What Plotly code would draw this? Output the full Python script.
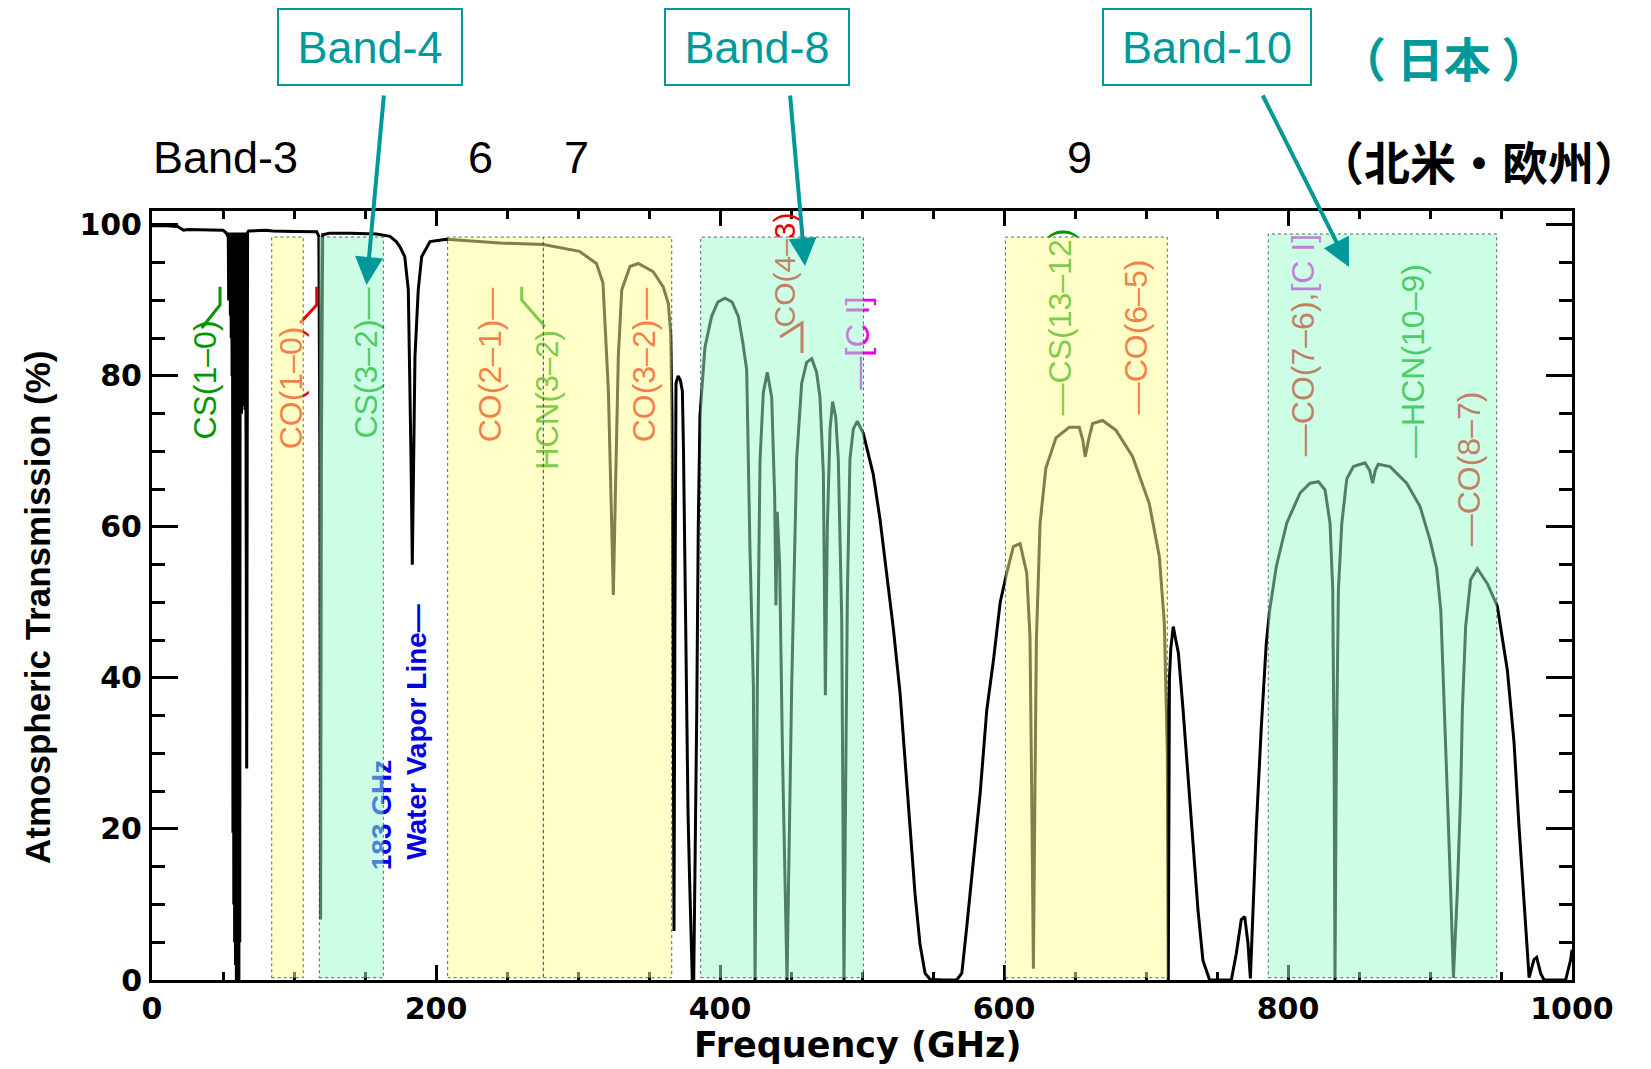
import plotly.graph_objects as go

# ---------------- data ----------------
# atmospheric transmission, (frequency GHz, transmission %) per spectral region
seg_0_53 = [(0, 99.9), (10, 99.9), (18, 99.8), (20, 99.6), (22.2, 99.3), (25, 99.4), (40, 99.4), (50, 99.3),
            (52, 99.0), (53.4, 98.5)]
# 60 GHz oxygen complex (dense forest of lines, read as upper / lower envelope)
seg_o2 = [(53.7, 99), (54.0, 90), (54.3, 99), (54.6, 90), (54.9, 99), (55.2, 88), (55.5, 99), (55.8, 85),
          (56.1, 99), (56.4, 80), (56.7, 99), (57.0, 19.5), (57.3, 99), (57.6, 10), (57.9, 99), (58.2, 5),
          (58.5, 99), (58.8, 2), (59.1, 99), (59.4, 0), (59.7, 99), (60.0, 0), (60.3, 99), (60.6, 0),
          (60.9, 99), (61.2, 0), (61.5, 99), (61.8, 5), (62.1, 99), (62.4, 75), (62.7, 99), (63.0, 75),
          (63.3, 99), (63.6, 76), (63.9, 99), (64.2, 76), (64.5, 99), (64.8, 76), (65.1, 99), (65.5, 75.5),
          (65.9, 99), (66.7, 28), (67.3, 99), (68, 99.2)]
seg_68_120 = [(80, 99.3), (85, 99.2), (100, 99.15), (110, 99.1), (116, 99.1),
              (117.5, 98.5), (118.2, 70), (118.75, 8), (119.3, 70), (120.2, 98.7)]
seg_120_366 = [(125, 98.9), (140, 98.9), (158, 98.8), (167.6, 98.5), (172, 97.8), (174.6, 97.1), (178, 95.8),
               (180.5, 91.4), (181.7, 80), (182.5, 68), (183.3, 55), (184, 68), (185.2, 82.6), (187.5, 91.4),
               (189.9, 95.8), (195.8, 97.8), (207.5, 98.1), (245, 97.6), (275.6, 97.4), (301, 96.5), (313, 94.9),
               (317.6, 92.3), (321.4, 78), (323.5, 62), (324.9, 51), (326.5, 66), (328.4, 82.6), (330.8, 91.4),
               (336.6, 94.5), (342.5, 94.9), (353, 93.8), (360, 91.8), (363.6, 89.6), (365.3, 85.6)]
seg_366_385 = [(366.2, 75), (367.0, 40), (367.6, 6.5), (368.2, 45), (369, 79), (370.5, 80), (372, 79.5),
               (373.5, 78), (374.3, 70), (375.5, 52), (376.5, 35), (377.5, 22), (378.5, 14), (379.5, 5),
               (380.5, 0), (381.5, 0), (382.5, 15), (383.6, 35), (384.7, 60)]
seg_385_501 = [(385.9, 74.8), (389.4, 83.8), (394.1, 87.9), (398.5, 89.8), (403.5, 90.3), (408.5, 89.8),
               (412.9, 87.9), (416, 84.5), (418.8, 80.8), (421.1, 57), (423.5, 39), (424.7, 0), (426.3, 39),
               (428.2, 68.9), (430.5, 77.8), (433.3, 80.5), (436.4, 77.2), (438.5, 64), (439.4, 49.6),
               (440.3, 62), (442, 55), (444, 30), (447.2, 0), (450.5, 39), (454, 69), (457.5, 79), (461, 81.8),
               (464.6, 82.3), (468, 80.5), (470.4, 77.2), (472.8, 67), (474.2, 37.7), (475.6, 60), (477.5, 73),
               (479.3, 76.6), (481.5, 74.5), (483.3, 69), (485.7, 48), (487.3, 0), (489.7, 51), (491.5, 69),
               (493.9, 73), (496.7, 74), (500.9, 72.4)]
seg_501_600 = [(507.9, 67), (512.7, 61), (517.4, 54), (522.1, 46.5), (526.8, 38), (530.3, 29.2), (533.8, 20.3),
               (537.3, 11.5), (540.8, 4.8), (544.4, 0.9), (547.9, 0.1), (556, 0), (566.7, 0), (570.3, 0.9),
               (573.8, 7.1), (578.5, 16), (583.2, 24.7), (587.9, 35.8), (592.6, 42.4), (597.3, 50)]
seg_600_720 = [(601.9, 53.9), (606.6, 57.4), (611.3, 57.8), (616, 53.9), (618.3, 45.5), (619.5, 25), (620.7, 1.5),
               (621.8, 25), (622.8, 45), (625.4, 60.5), (629.5, 67.8), (636.6, 71.8), (645.9, 73.2), (653, 73.2),
               (655.5, 71.5), (657.2, 69.3), (659.5, 71.5), (662.4, 73.7), (669.5, 74.1), (678.9, 72.8),
               (690.6, 69.3), (702.3, 63.1), (709.4, 56.1), (712.9, 47.3), (715.0, 30), (715.7, 0), (716.5, 40),
               (717.5, 44), (719.2, 46.8)]
seg_720_790 = [(720.5, 45.5), (722.8, 43.3), (726.1, 35.8), (729.6, 27), (733.1, 18.1), (736.6, 9.3), (740.1, 2.6),
               (744.8, 0), (760.1, 0), (763.6, 3.5), (767.1, 8), (769.5, 8.4), (771.8, 4.9), (773.5, 0.2),
               (774.9, 7), (777.7, 20.3), (781.2, 33.5), (784.7, 44.6), (787.1, 49)]
seg_790_1000 = [(791.8, 54.8), (799.1, 60.5), (808.5, 64.5), (815.5, 65.8), (821.4, 66), (826.1, 64.9),
                (829.6, 60.5), (831.5, 51.7), (832.5, 28), (833.1, 0), (834, 28), (835.5, 51.7), (837.9, 60.5),
                (841.4, 66.4), (846.1, 68), (854.2, 68.5), (857.5, 67.5), (859.6, 65.8), (861.5, 67.5),
                (863.6, 68.3), (871.8, 68), (883.6, 65.8), (893, 62.7), (900, 58.3), (904.7, 54.5), (907.6, 49),
                (909.9, 38), (912.2, 24.7), (914.6, 11.5), (916.5, 0.3), (919.2, 11.5), (921.6, 24.7),
                (922.8, 35.8), (925.1, 46.8), (928.6, 53), (933.3, 54.5), (940.4, 52.5), (947.4, 49.5),
                (954.5, 41), (959.2, 31.4), (962.7, 20.3), (965.8, 11.5), (968.5, 2.7), (969.8, 0.3),
                (973.2, 2.7), (975.1, 3), (977.9, 0.9), (980.3, 0), (995.5, 0), (999.1, 2.7), (1000, 4)]

# ALMA receiver bands (GHz) shown as shaded boxes
band_names = ["3", "4", "6", "7", "8", "9", "10"]
band_lo = [84.3, 117.8, 208.2, 275.6, 386.4, 601.0, 786.1]
band_hi = [106.5, 162.9, 275.6, 366.0, 501.0, 715.0, 947.0]
band_top = [98.4, 98.4, 98.4, 98.4, 98.4, 98.4, 98.8]
band_kind = ["yellow", "green", "yellow", "yellow", "green", "yellow", "green"]

x_ticks = [0, 200, 400, 600, 800, 1000]
y_ticks = [0, 20, 40, 60, 80, 100]

segments = [seg_0_53, seg_o2, seg_68_120, seg_120_366, seg_366_385, seg_385_501, seg_501_600,
            seg_600_720, seg_720_790, seg_790_1000]
freq = [p[0] for s in segments for p in s]
trans = [p[1] for s in segments for p in s]

# ---------------- styling / layout ----------------
OFF = 8                      # page body margin offset
PAGE_W, PAGE_H = 1651, 1069
W, H = PAGE_W - OFF, PAGE_H - OFF
L, R, T, B = 152, 1572, 211, 980   # plot area in page pixels


def px(xp):
    return (xp - L) / (R - L)


def py(yp):
    return (B - yp) / (B - T)


TEAL = "rgb(0,153,153)"
RED = "rgb(230,0,0)"
GREEN = "rgb(0,150,0)"
MAGENTA = "rgb(230,0,230)"
BLUE = "rgb(0,0,230)"
FILL = {"yellow": "rgba(255,255,145,0.5)", "green": "rgba(153,255,203,0.5)"}
SANS = "Liberation Sans"

fig = go.Figure()
fig.add_trace(go.Scatter(x=freq, y=trans, mode="lines", line=dict(color="black", width=3),
                         hoverinfo="skip", showlegend=False))

shapes = []
# connector lines for line labels (drawn before the band boxes so they are tinted)
connectors = [
    ([(201.7, 328), (220, 305), (220, 286.7)], GREEN),
    ([(300, 323), (316.7, 305), (316.7, 286.7)], RED),
    ([(545, 326.7), (521.7, 300), (521.7, 286.7)], GREEN),
    ([(780, 337), (802, 323), (802, 353)], RED),
]
for pts, col in connectors:
    path = "M " + " L ".join(f"{px(a):.5f},{py(b):.5f}" for a, b in pts)
    shapes.append(dict(type="path", xref="paper", yref="paper", path=path,
                       line=dict(color=col, width=3), layer="above"))

mol_labels = [
    ("CS(1–0)", GREEN, 202, 380, 32, False),
    ("CO(1–0)", RED, 288, 388, 32, False),
    ("CS(3–2)—", GREEN, 362.5, 363, 32, False),
    ("183 GHz", BLUE, 378, 815, 28, True),
    ("Water Vapor Line—", BLUE, 413, 732, 28, True),
    ("CO(2–1)—", RED, 487, 365, 32, False),
    ("HCN(3–2)", GREEN, 544, 400, 31, False),
    ("CO(3–2)—", RED, 641, 365, 32, False),
    ("CO(4–3)", RED, 781, 270, 30, False),
    ("—[C I]", MAGENTA, 854, 343, 33, False),
    ("—CS(13–12)", GREEN, 1057, 322, 32, False),
    ("—CO(6–5)", RED, 1133, 337, 32, False),
    ("<span style='color:rgb(230,0,0)'>—CO(7–6),</span>[C I]", MAGENTA, 1300, 345, 32, False),
    ("—HCN(10–9)", GREEN, 1410, 361, 32, False),
    ("—CO(8–7)", RED, 1466, 469, 32, False),
]
for text, col, cx, cy, size, bold in mol_labels:
    t = f"<b>{text}</b>" if bold else text
    shapes.append(dict(type="rect", xref="paper", yref="paper",
                       x0=px(cx) - 0.0005, x1=px(cx) + 0.0005, y0=py(cy) - 0.0005, y1=py(cy) + 0.0005,
                       line=dict(width=0), fillcolor="rgba(0,0,0,0)", layer="above",
                       label=dict(text=t, textangle=-90, textposition="middle center",
                                  font=dict(family=SANS, size=size, color=col))))

# band boxes: translucent overlays on top of curve and labels
for lo, hi, top, kind in zip(band_lo, band_hi, band_top, band_kind):
    shapes.append(dict(type="rect", xref="x", yref="y", x0=lo, x1=hi, y0=0.3, y1=top,
                       fillcolor=FILL[kind], line=dict(color="rgba(60,60,60,0.8)", width=1, dash="dot"),
                       layer="above"))

annotations = []
# boxed teal band labels
for text, cx, cy, w, h in [("Band-4", 370, 47, 186, 78), ("Band-8", 757, 47, 186, 78),
                           ("Band-10", 1207, 47, 210, 78)]:
    annotations.append(dict(text=text, xref="paper", yref="paper", x=px(cx), y=py(cy),
                            xanchor="center", yanchor="middle", showarrow=False,
                            width=w - 4, height=h - 4, borderpad=0, borderwidth=2, bordercolor=TEAL,
                            bgcolor="white", font=dict(family=SANS, size=45, color=TEAL)))
# arrows from boxes into the plot
for (tx, ty), (sx, sy) in [((366.5, 285), (384, 94)), ((805, 266), (790, 94)), ((1349, 267), (1262, 94))]:
    annotations.append(dict(text="", xref="paper", yref="paper", x=px(tx), y=py(ty),
                            ax=sx - tx, ay=sy - ty, showarrow=True, arrowhead=2, arrowsize=1.4,
                            arrowwidth=4, arrowcolor=TEAL, standoff=0))
# plain band labels
for text, cx in [("Band-3", 225), ("6", 480), ("7", 576), ("9", 1079)]:
    annotations.append(dict(text=text, xref="paper", yref="paper", x=px(cx), y=py(158),
                            xanchor="center", yanchor="middle", showarrow=False,
                            font=dict(family=SANS, size=45, color="black")))
annotations.append(dict(text="（ 日本 ）", xref="paper", yref="paper", x=px(1443), y=py(56),
                        xanchor="center", yanchor="middle", showarrow=False,
                        font=dict(family="Noto Sans CJK JP", size=47, color=TEAL, weight="bold")))
annotations.append(dict(text="（北米・欧州）", xref="paper", yref="paper", x=px(1479), y=py(160),
                        xanchor="center", yanchor="middle", showarrow=False,
                        font=dict(family="Noto Sans CJK JP", size=46, color="black", weight="bold")))
# axis titles
annotations.append(dict(text="Frequency (GHz)", xref="paper", yref="paper", x=px(857), y=py(1045),
                        xanchor="center", yanchor="middle", showarrow=False,
                        font=dict(family="DejaVu Sans", size=35, color="black", weight="bold")))
annotations.append(dict(text="Atmospheric Transmission (%)", xref="paper", yref="paper", x=px(37), y=py(608),
                        xanchor="center", yanchor="middle", showarrow=False, textangle=-90,
                        font=dict(family=SANS, size=35, color="black", weight="bold")))

tickfont = dict(family="DejaVu Sans", size=30, color="black", weight="bold")
fig.update_layout(
    width=W, height=H,
    margin=dict(l=L - OFF, r=PAGE_W - R, t=T - OFF, b=PAGE_H - B, autoexpand=False),
    plot_bgcolor="white", paper_bgcolor="white", showlegend=False,
    xaxis=dict(range=[0, 1000], tickmode="array", tickvals=x_ticks, ticktext=[str(v) for v in x_ticks],
               ticks="inside", ticklen=15, tickwidth=3, tickcolor="black",
               minor=dict(dtick=50, tick0=0, ticks="inside", ticklen=8, tickwidth=2.5, tickcolor="black",
                          showgrid=False),
               showline=True, linewidth=3, linecolor="black", mirror="allticks", showgrid=False,
               zeroline=False, tickfont=tickfont, ticklabelstandoff=0),
    yaxis=dict(range=[0, 101.85], tickmode="array", tickvals=y_ticks, ticktext=[str(v) for v in y_ticks],
               ticks="inside", ticklen=26, tickwidth=3, tickcolor="black",
               minor=dict(dtick=5, tick0=0, ticks="inside", ticklen=13, tickwidth=2.5, tickcolor="black",
                          showgrid=False),
               showline=True, linewidth=3, linecolor="black", mirror="allticks", showgrid=False,
               zeroline=False, tickfont=tickfont, ticklabelstandoff=1),
    shapes=shapes, annotations=annotations,
)

fig.write_html("out.html")
